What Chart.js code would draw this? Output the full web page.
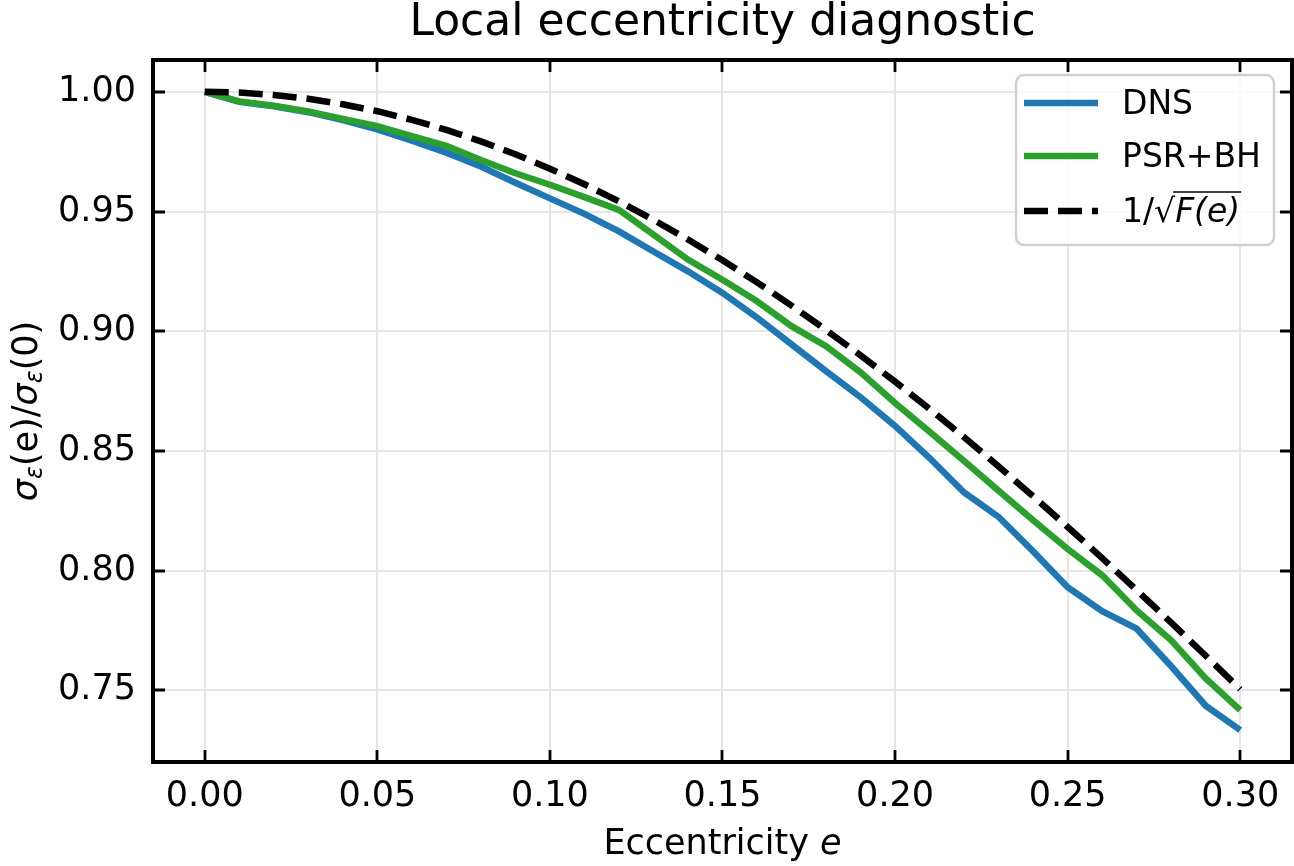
<!DOCTYPE html>
<html>
<head>
<meta charset="utf-8">
<script src="https://cdn.jsdelivr.net/npm/chart.js@4/dist/chart.umd.min.js"></script>
<style>
html,body{margin:0;padding:0;background:#fff;}
#wrap{width:1294px;height:866px;}
</style>
</head>
<body>
<div id="wrap"><canvas id="c" width="1294" height="866"></canvas></div>
<script>
const eccentricity = [0.00,0.01,0.02,0.03,0.04,0.05,0.06,0.07,0.08,0.09,0.10,0.11,0.12,0.13,0.14,0.15,0.16,0.17,0.18,0.19,0.20,0.21,0.22,0.23,0.24,0.25,0.26,0.27,0.28,0.29,0.30];
const dnsValues = [1.000,0.9958,0.9940,0.9915,0.9882,0.9843,0.9796,0.9746,0.9688,0.9620,0.9555,0.9490,0.9417,0.9333,0.9250,0.9160,0.9057,0.8945,0.8833,0.8724,0.8604,0.8470,0.8326,0.8224,0.8080,0.7930,0.7830,0.7757,0.7600,0.7435,0.7333];
const psrbhValues = [1.000,0.9960,0.9942,0.9918,0.9887,0.9857,0.9815,0.9774,0.9715,0.9660,0.9612,0.9560,0.9507,0.9403,0.9299,0.9215,0.9125,0.9021,0.8937,0.8828,0.8700,0.8580,0.8458,0.8333,0.8210,0.8090,0.7980,0.7833,0.7708,0.7549,0.7417];
const theoryValues = [1.0000,0.9997,0.9987,0.9971,0.9948,0.9919,0.9883,0.9841,0.9793,0.9739,0.9679,0.9614,0.9542,0.9465,0.9383,0.9296,0.9204,0.9107,0.9005,0.8899,0.8789,0.8675,0.8557,0.8435,0.8310,0.8182,0.8052,0.7918,0.7782,0.7644,0.7504];
const xTicks = [0.00,0.05,0.10,0.15,0.20,0.25,0.30];
const yTicks = [0.75,0.80,0.85,0.90,0.95,1.00];
const seriesLabels = ['DNS','PSR+BH','1/√F(e)'];
const titleText = 'Local eccentricity diagnostic';
const xLabelText = 'Eccentricity';

const FONT = 'DejaVu Sans';
const pts = (ys) => eccentricity.map((x,i)=>({x:x,y:ys[i]}));

const framePlugin = {
  id:'frame',
  afterDraw(chart){
    const ctx = chart.ctx, a = chart.chartArea;
    const xs = chart.scales.x, ys = chart.scales.y;
    ctx.save();
    // inward ticks
    ctx.strokeStyle = '#000'; ctx.lineWidth = 2.8;
    const L = 12;
    xTicks.forEach(v=>{
      const px = Math.round(xs.getPixelForValue(v));
      ctx.beginPath();
      ctx.moveTo(px,a.bottom); ctx.lineTo(px,a.bottom-L);
      ctx.moveTo(px,a.top); ctx.lineTo(px,a.top+L);
      ctx.stroke();
    });
    yTicks.forEach(v=>{
      const py = Math.round(ys.getPixelForValue(v));
      ctx.beginPath();
      ctx.moveTo(a.left,py); ctx.lineTo(a.left+L,py);
      ctx.moveTo(a.right,py); ctx.lineTo(a.right-L,py);
      ctx.stroke();
    });
    // frame
    ctx.lineWidth = 4;
    ctx.strokeRect(a.left, a.top, a.right-a.left, a.bottom-a.top);

    // legend
    const lx = 1016, ly = 75, lw = 258, lh = 170;
    ctx.beginPath();
    ctx.roundRect(lx, ly, lw, lh, 8);
    ctx.fillStyle = 'rgba(255,255,255,0.8)';
    ctx.fill();
    ctx.strokeStyle = '#d0d0d0'; ctx.lineWidth = 2.5;
    ctx.stroke();
    const rows = [103, 156, 211];
    chart.data.datasets.forEach((ds,i)=>{
      ctx.beginPath();
      ctx.strokeStyle = ds.borderColor; ctx.lineWidth = ds.borderWidth;
      ctx.setLineDash(ds.borderDash || []);
      ctx.moveTo(1024, rows[i]); ctx.lineTo(1098, rows[i]);
      ctx.stroke();
      ctx.setLineDash([]);
    });
    ctx.fillStyle = '#000';
    ctx.textBaseline = 'middle'; ctx.textAlign = 'left';
    ctx.font = '33px "'+FONT+'"';
    ctx.fillText(seriesLabels[0], 1122, rows[0]+2);
    ctx.fillText(seriesLabels[1], 1122, rows[1]+2);
    // 1/sqrt(F(e)) with overline
    let tx = 1122;
    ctx.fillText('1/√', tx, rows[2]+2);
    tx += ctx.measureText('1/√').width;
    ctx.font = 'italic 33px "'+FONT+'"';
    const fw = ctx.measureText('F(e)').width;
    ctx.fillText('F(e)', tx, rows[2]+2);
    ctx.lineWidth = 1.6; ctx.strokeStyle = '#000';
    ctx.beginPath(); ctx.moveTo(tx-2, rows[2]-19); ctx.lineTo(tx+fw+1, rows[2]-19); ctx.stroke();

    // title
    ctx.font = '44px "'+FONT+'"';
    ctx.textAlign = 'center'; ctx.textBaseline = 'middle';
    ctx.fillText(titleText, (a.left+a.right)/2, 24);

    // x label
    ctx.font = '35px "'+FONT+'"';
    const w1 = ctx.measureText(xLabelText+' ').width;
    ctx.font = 'italic 35px "'+FONT+'"';
    const w2 = ctx.measureText('e').width;
    let sx = (a.left+a.right)/2 - (w1+w2)/2;
    ctx.textAlign = 'left';
    ctx.font = '35px "'+FONT+'"';
    ctx.fillText(xLabelText+' ', sx, 845);
    ctx.font = 'italic 35px "'+FONT+'"';
    ctx.fillText('e', sx+w1, 845);

    // y label: σε(e)/σε(0)
    ctx.save();
    ctx.translate(28, (a.top+a.bottom)/2);
    ctx.rotate(-Math.PI/2);
    const parts = [
      {t:'σ', f:'italic 35px', dy:0},
      {t:'ε', f:'italic 24px', dy:8},
      {t:'(e)/', f:'35px', dy:0},
      {t:'σ', f:'italic 35px', dy:0},
      {t:'ε', f:'italic 24px', dy:8},
      {t:'(0)', f:'35px', dy:0}
    ];
    let tot = 0;
    parts.forEach(p=>{ctx.font = p.f+' "'+FONT+'"'; p.w = ctx.measureText(p.t).width; tot += p.w;});
    let cx = -tot/2;
    ctx.textAlign='left'; ctx.textBaseline='middle';
    parts.forEach(p=>{ctx.font = p.f+' "'+FONT+'"'; ctx.fillText(p.t, cx, p.dy); cx += p.w;});
    ctx.restore();
    ctx.restore();
  }
};

new Chart(document.getElementById('c'), {
  type:'line',
  data:{
    datasets:[
      {label:seriesLabels[0], data:pts(dnsValues), borderColor:'#1f77b4', borderWidth:6.5, pointRadius:0, tension:0, fill:false, order:2},
      {label:seriesLabels[1], data:pts(psrbhValues), borderColor:'#2ca02c', borderWidth:6.5, pointRadius:0, tension:0, fill:false, order:1},
      {label:seriesLabels[2], data:pts(theoryValues), borderColor:'#000000', borderWidth:6.5, borderDash:[24,10], pointRadius:0, tension:0, fill:false, order:0}
    ]
  },
  options:{
    responsive:false, animation:false, devicePixelRatio:1,
    layout:{padding:{left:0,right:2,top:60,bottom:0}},
    plugins:{legend:{display:false}, tooltip:{enabled:false}, title:{display:false}},
    scales:{
      x:{type:'linear', min:-0.015, max:0.315,
        afterBuildTicks(s){ s.ticks = xTicks.map(v=>({value:v})); },
        afterFit(s){ s.height = 104; },
        grid:{color:'#e6e6e6', lineWidth:2, drawTicks:false},
        border:{display:false},
        ticks:{color:'#000', padding:14, maxRotation:0, font:{family:FONT,size:35}, callback:(v)=>Number(v).toFixed(2)}
      },
      y:{type:'linear', min:0.72, max:1.0133,
        afterBuildTicks(s){ s.ticks = yTicks.map(v=>({value:v})); },
        afterFit(s){ s.width = 153; },
        grid:{color:'#e6e6e6', lineWidth:2, drawTicks:false},
        border:{display:false},
        ticks:{color:'#000', padding:17, font:{family:FONT,size:35}, callback:(v)=>Number(v).toFixed(2)}
      }
    }
  },
  plugins:[framePlugin]
});
</script>
</body>
</html>
